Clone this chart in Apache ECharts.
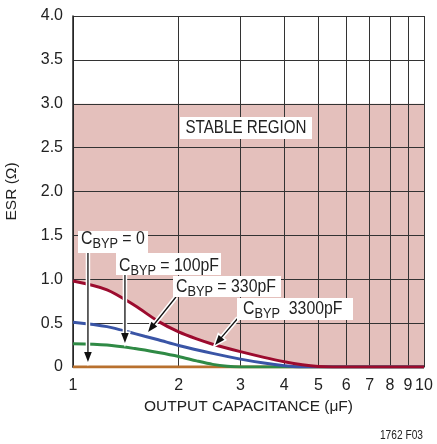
<!DOCTYPE html>
<html>
<head>
<meta charset="utf-8">
<script src="https://cdn.jsdelivr.net/npm/echarts@6/dist/echarts.min.js"></script>
<style>
  html, body { margin: 0; padding: 0; background: #fff; }
  #chart { width: 437px; height: 444px; }
</style>
</head>
<body>
<div id="chart"></div>
<script>
// tick labels
var capTicks = [1, 2, 3, 4, 5, 6, 7, 8, 9, 10];

// stable region upper limit
var stableCap = [1, 10];
var stableEsr = [3, 3];

// curves (capacitance uF, ESR ohm)
var capRed = [1, 1.25, 1.5, 1.75, 2, 2.25, 2.5, 3, 3.5, 4, 4.5, 5, 5.5, 10];
var esrRed = [0.98, 0.88, 0.70, 0.52, 0.40, 0.32, 0.26, 0.175, 0.11, 0.06, 0.025, 0.005, 0, 0];

var capBlue = [1, 1.25, 1.5, 1.75, 2, 2.5, 3, 3.5, 4, 4.5, 10];
var esrBlue = [0.51, 0.46, 0.38, 0.31, 0.245, 0.155, 0.09, 0.045, 0.015, 0, 0];

var capGreen = [1, 1.25, 1.5, 1.75, 2, 2.25, 2.5, 2.75, 3, 10];
var esrGreen = [0.265, 0.25, 0.21, 0.165, 0.12, 0.07, 0.03, 0.008, 0, 0];

var capOrange = [1, 10];
var esrOrange = [0, 0];

function pairs(xs, ys) {
    return xs.map(function (x, i) { return [x, ys[i]]; });
}

var font = '"Liberation Sans", Arial, sans-serif';

var myChart = echarts.init(document.getElementById('chart'));

var lineBase = {
    type: 'line',
    showSymbol: false,
    symbol: 'none',
    smooth: 0.3,
    silent: true,
    z: 4
};

option = {
    animation: false,
    backgroundColor: '#fff',
    grid: {
        left: 73,
        right: 13,
        top: 16,
        bottom: 77,
        containLabel: false,
        outerBoundsMode: 'none'
    },
    xAxis: {
        type: 'log',
        logBase: 10,
        min: 1,
        max: 10,
        z: 3,
        name: 'OUTPUT CAPACITANCE (μF)',
        nameLocation: 'middle',
        nameGap: 32,
        nameTextStyle: { fontFamily: font, fontSize: 15.5, color: '#222' },
        axisLine: { show: true, lineStyle: { color: '#222', width: 1.5 } },
        axisTick: { show: false, customValues: capTicks },
        axisLabel: {
            customValues: capTicks,
            margin: 11,
            fontFamily: font,
            fontSize: 16,
            color: '#222',
            formatter: function (v) { return String(Math.round(v)); }
        },
        splitLine: { show: true, lineStyle: { color: '#333', width: 1 } },
        minorTick: { show: false },
        minorSplitLine: { show: false }
    },
    yAxis: {
        type: 'value',
        min: 0,
        max: 4,
        interval: 0.5,
        z: 3,
        name: 'ESR (Ω)',
        nameLocation: 'middle',
        nameGap: 53,
        nameTextStyle: { fontFamily: font, fontSize: 15.5, color: '#222' },
        axisLine: { show: true, lineStyle: { color: '#222', width: 1.5 } },
        axisTick: { show: false },
        axisLabel: {
            margin: 10,
            fontFamily: font,
            fontSize: 16,
            color: '#222',
            formatter: function (v) { return v === 0 ? '0' : v.toFixed(1); }
        },
        splitLine: { show: true, lineStyle: { color: '#333', width: 1 } }
    },
    series: [
        {   // stable region fill
            type: 'line',
            symbol: 'none',
            silent: true,
            z: 1,
            lineStyle: { width: 0 },
            areaStyle: { color: '#e4c0bc', opacity: 1 },
            data: pairs(stableCap, stableEsr)
        },
        {   // white below the boundary curve
            type: 'line',
            symbol: 'none',
            smooth: 0.3,
            silent: true,
            z: 2,
            lineStyle: { width: 0 },
            areaStyle: { color: '#fff', opacity: 1 },
            data: pairs(capRed, esrRed)
        },
        Object.assign({}, lineBase, {
            name: 'orange',
            lineStyle: { color: '#b8702e', width: 3 },
            data: pairs(capOrange, esrOrange)
        }),
        Object.assign({}, lineBase, {
            name: 'green',
            lineStyle: { color: '#2f8a45', width: 3 },
            data: pairs(capGreen, esrGreen)
        }),
        Object.assign({}, lineBase, {
            name: 'blue',
            lineStyle: { color: '#3a55a6', width: 3 },
            data: pairs(capBlue, esrBlue)
        }),
        Object.assign({}, lineBase, {
            name: 'red',
            lineStyle: { color: '#9c0b2e', width: 3 },
            data: pairs(capRed, esrRed)
        })
    ]
};
myChart.setOption(option);

// annotation arrows, start/tip in data coords
var arrows = [
    [[1.103, 1.30], [1.103, 0.057]],
    [[1.406, 1.048], [1.406, 0.273]],
    [[1.965, 0.798], [1.636, 0.399]],
    [[2.952, 0.558], [2.539, 0.251]]
];

// labels: white box [x, y, w, h], text left x, cap centre y, text after subscript
var labels = [
    { box: [78, 231, 70, 22], x: 81, y: 239, rest: ' = 0' },
    { box: [116, 253, 105, 22], x: 119, y: 266, rest: ' = 100pF' },
    { box: [173, 276, 108, 21], x: 176, y: 287, rest: ' = 330pF' },
    { box: [237, 298, 116, 22], x: 243, y: 309, rest: '  3300pF' }
];

var ctx = document.createElement('canvas').getContext('2d');
function textWidth(s, size) {
    ctx.font = size + 'px ' + font;
    return ctx.measureText(s).width;
}

var graphics = [];

arrows.forEach(function (a) {
    var p0 = myChart.convertToPixel({ gridIndex: 0 }, a[0]);
    var p1 = myChart.convertToPixel({ gridIndex: 0 }, a[1]);
    var dx = p1[0] - p0[0], dy = p1[1] - p0[1];
    var len = Math.sqrt(dx * dx + dy * dy);
    var ux = dx / len, uy = dy / len;
    var hl = 10, hw = 3.8;
    var bx = p1[0] - ux * hl, by = p1[1] - uy * hl;
    var head = [
        [p1[0], p1[1]],
        [bx - uy * hw, by + ux * hw],
        [bx + uy * hw, by - ux * hw]
    ];
    graphics.push({
        type: 'polyline', z: 20, silent: true,
        shape: { points: [p0, [bx, by]] },
        style: { stroke: '#fff', lineWidth: 4.5, fill: null }
    });
    graphics.push({
        type: 'polygon', z: 20, silent: true,
        shape: { points: head },
        style: { fill: '#fff', stroke: '#fff', lineWidth: 3 }
    });
    graphics.push({
        type: 'polyline', z: 21, silent: true,
        shape: { points: [p0, [bx + ux * 2, by + uy * 2]] },
        style: { stroke: '#111', lineWidth: 1.3, fill: null }
    });
    graphics.push({
        type: 'polygon', z: 21, silent: true,
        shape: { points: head },
        style: { fill: '#111' }
    });
});

labels.forEach(function (l) {
    graphics.push({
        type: 'rect', z: 22, silent: true,
        shape: { x: l.box[0], y: l.box[1], width: l.box[2], height: l.box[3] },
        style: { fill: '#fff' }
    });
    var wC = textWidth('C', 18);
    var wS = textWidth('BYP', 14.5);
    graphics.push({
        type: 'group', z: 23, silent: true,
        x: l.x, y: l.y, scaleX: 0.88,
        children: [
            { type: 'text', z: 23, x: 0, y: 0,
              style: { text: 'C', font: '18px ' + font, fill: '#222', verticalAlign: 'middle' } },
            { type: 'text', z: 23, x: wC, y: 5,
              style: { text: 'BYP', font: '14.5px ' + font, fill: '#222', verticalAlign: 'middle' } },
            { type: 'text', z: 23, x: wC + wS, y: 0,
              style: { text: l.rest, font: '18px ' + font, fill: '#222', verticalAlign: 'middle' } }
        ]
    });
});

graphics.push({
    type: 'rect', z: 22, silent: true,
    shape: { x: 180, y: 117, width: 132, height: 22 },
    style: { fill: '#fff' }
});
graphics.push({
    type: 'text', z: 23, silent: true,
    x: 246, y: 128, scaleX: 0.82,
    style: {
        text: 'STABLE REGION',
        font: '18.5px ' + font,
        align: 'center', verticalAlign: 'middle', fill: '#222'
    }
});
graphics.push({
    type: 'text', z: 23, silent: true,
    x: 423, y: 436, scaleX: 0.85,
    style: {
        text: '1762 F03',
        font: '12px ' + font,
        align: 'right', verticalAlign: 'middle', fill: '#222'
    }
});

myChart.setOption({ graphic: graphics });
</script>
</body>
</html>
